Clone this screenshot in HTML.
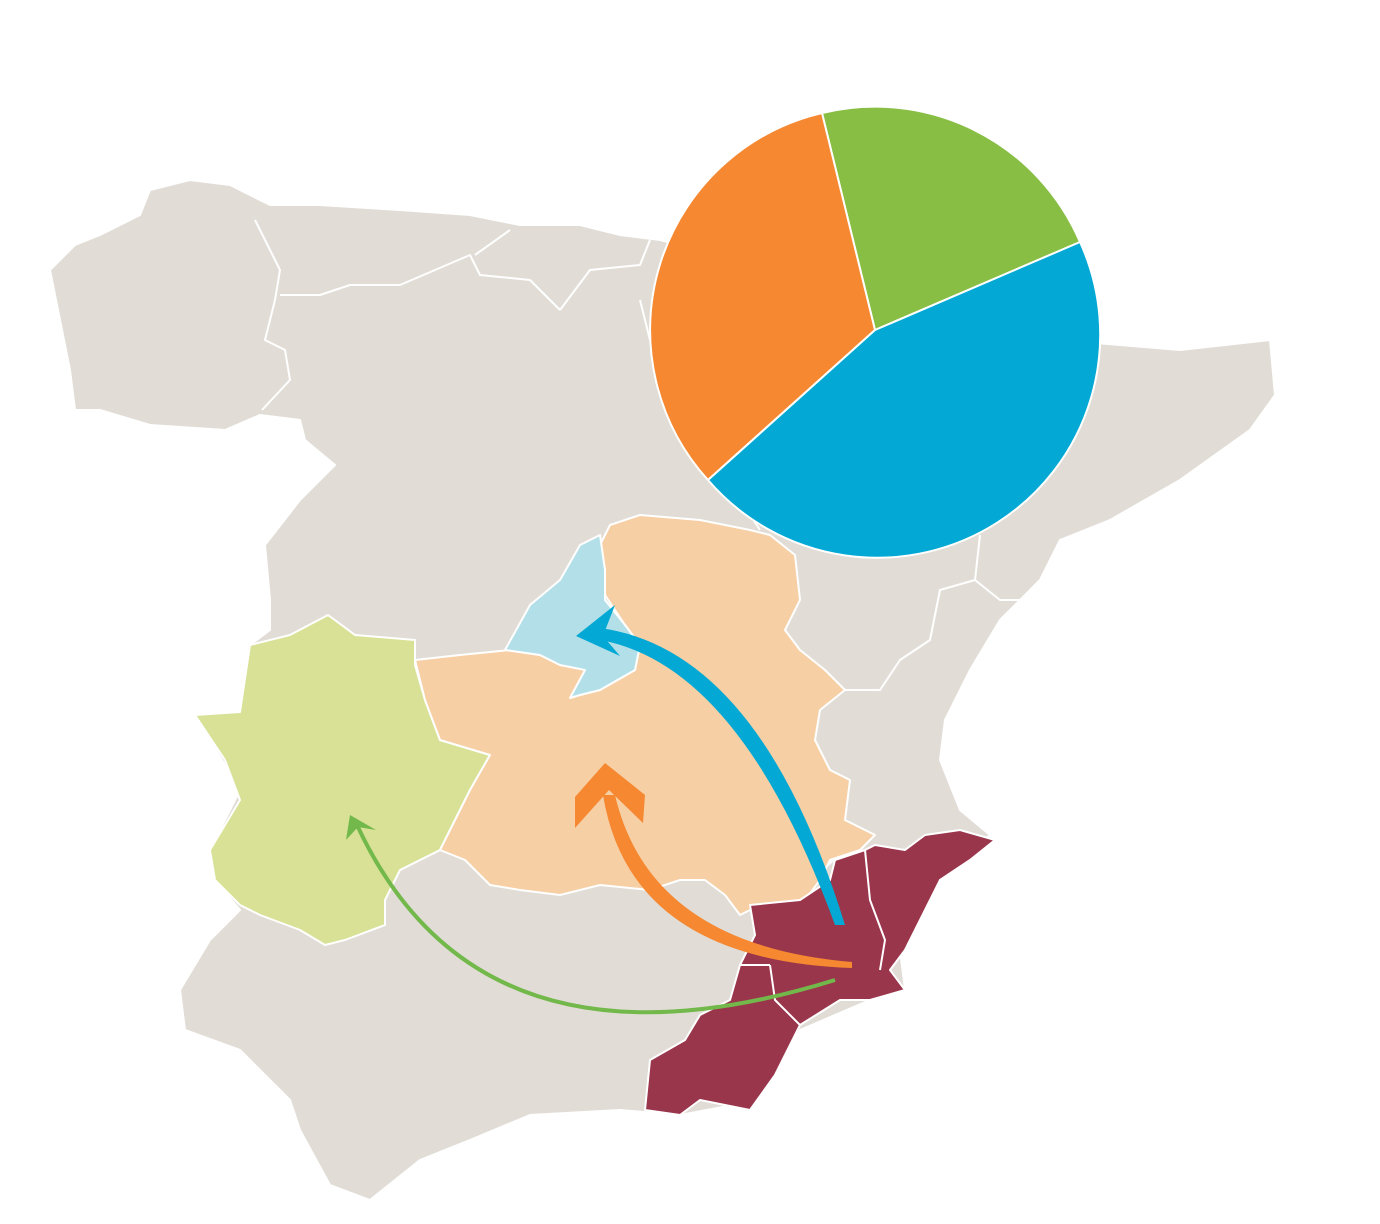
<!DOCTYPE html>
<html><head><meta charset="utf-8"><style>html,body{margin:0;padding:0;background:#fff}svg{display:block}</style></head>
<body>
<svg width="1380" height="1224" viewBox="0 0 1380 1224" xmlns="http://www.w3.org/2000/svg">
<g stroke="#fff" stroke-width="2" stroke-linejoin="round">
<path fill="#e1ddd6" d="M50,270 L75,245 L100,235 L140,215 L150,190 L190,180 L230,185 L270,205 L320,205 L400,210 L470,215 L520,225 L580,225 L620,235 L660,240 L700,250 L760,270 L860,300 L960,330 L1060,340 L1120,345 L1180,350 L1270,340 L1275,395 L1250,430 L1180,480 L1110,520 L1060,540 L1040,580 L1000,620 L970,670 L945,720 L940,760 L960,810 L990,835 L930,880 L900,950 L905,990 L870,1000 L800,1030 L760,1100 L680,1115 L620,1110 L530,1115 L470,1140 L420,1160 L370,1200 L330,1185 L300,1130 L290,1100 L240,1050 L185,1030 L180,990 L210,940 L240,910 L215,880 L210,850 L240,790 L195,715 L245,710 L250,645 L270,630 L270,600 L265,545 L300,500 L335,465 L305,440 L300,420 L260,415 L225,430 L150,425 L100,410 L75,410 L70,370 L60,320 Z"/>
<g fill="none" stroke="#fff" stroke-width="2">
<path d="M255,220 L270,250 L280,270 L275,300 L265,340 L285,350 L290,380 L262,410"/>
<path d="M280,295 L320,295 L350,285 L400,285 L470,255 L480,275 L530,280 L560,310"/>
<path d="M510,230 L475,255"/>
<path d="M560,310 L590,270 L640,265 L650,240"/>
<path d="M640,300 L660,380 L700,430 L740,500 L760,530"/>
<path d="M980,535 L975,580 L940,590 L930,640 L900,660 L880,690 L845,690"/>
<path d="M975,580 L1000,600 L1030,600 L1045,580"/>
<path d="M845,850 L800,890"/>
<path d="M400,870 L440,850"/>
</g>
<path fill="#d8e196" d="M195,715 L240,712 L250,645 L290,635 L328,615 L355,635 L415,640 L415,665 L425,700 L440,740 L490,755 L470,790 L450,830 L440,850 L400,870 L385,900 L385,925 L345,940 L325,945 L300,930 L260,915 L240,905 L215,880 L210,850 L240,800 L225,760 Z"/>
<path fill="#f7cfa5" d="M415,660 L460,655 L510,650 L540,655 L560,665 L590,670 L580,695 L600,690 L635,670 L640,645 L625,625 L605,595 L605,570 L600,545 L610,525 L640,515 L700,520 L750,530 L770,535 L795,555 L800,600 L785,630 L800,650 L825,670 L845,690 L820,710 L815,740 L830,770 L850,780 L845,820 L875,835 L860,850 L830,860 L820,880 L805,900 L760,905 L740,915 L725,895 L705,880 L680,880 L650,890 L600,885 L560,895 L520,890 L490,885 L465,860 L440,850 L450,830 L470,790 L490,755 L440,740 L425,700 Z"/>
<path fill="#b3dfe8" d="M505,650 L530,605 L560,580 L580,545 L600,535 L605,570 L605,600 L625,625 L640,645 L635,670 L600,690 L580,695 L570,698 L585,670 L560,665 L540,655 Z"/>
<path fill="#9a364c" d="M750,905 L800,900 L830,880 L835,860 L865,850 L875,845 L905,850 L925,835 L960,830 L995,840 L970,860 L940,880 L905,950 L890,970 L905,990 L870,1000 L840,1000 L800,1025 L775,1075 L750,1110 L700,1100 L680,1115 L645,1110 L650,1060 L685,1040 L700,1015 L730,1000 L740,965 L755,935 Z"/>
<path fill="none" d="M865,850 L870,900 L885,940 L880,970 M770,965 L775,1000 L800,1025 M740,965 L770,965"/>
</g>
<!-- arrows -->
<path fill="#03a9d4" d="M845,925 Q760,650 600,628 L600,640 Q740,665 835,925 Z"/>
<path fill="#03a9d4" d="M615,605 L576,636 L620,656 L603,636 Z"/>
<path fill="#f58831" d="M852,968 Q630,960 603,795 L615,795 Q650,945 852,962 Z"/>
<path fill="#f58831" d="M575,828 L575,797 L605,763 L645,795 L643,823 L609,790 Z"/>
<path fill="none" stroke="#72b84a" stroke-width="4" d="M835,980 Q480,1090 357,825"/>
<path fill="#72b84a" d="M346,840 L350,815 L376,830 L358,827 Z"/>
<!-- pie -->
<g stroke="#fff" stroke-width="2" stroke-linejoin="round">
<path fill="#88be44" d="M875,330 L822,113 A223,223 0 0 1 1080,242 Z"/>
<path fill="#f58831" d="M875,330 L708,480 A223,223 0 0 1 822,113 Z"/>
<path fill="#03a9d4" d="M875,330 L1080,242 A223,223 0 0 1 708,480 Z"/>
</g>
</svg>
</body></html>
